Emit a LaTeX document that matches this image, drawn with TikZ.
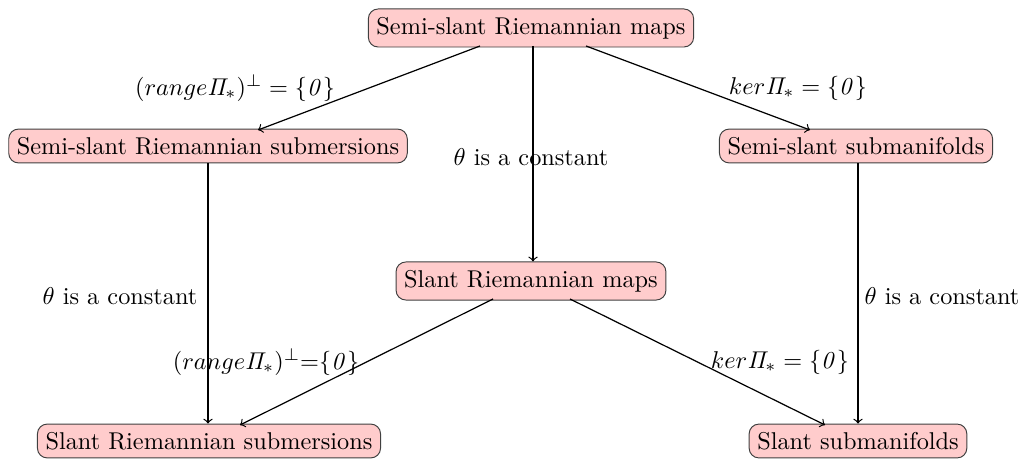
\documentclass[tikz,border=0pt]{standalone}
\usepackage{amsmath}
\begin{document}
\begin{tikzpicture}[x=0.4115pt,y=-0.4115pt,
  box/.style={draw=black!75,fill=red!20,rounded corners=4pt,inner sep=3.33pt},
  arr/.style={->,thick,line width=0.5pt},
  lab/.style={inner sep=1pt}]
\useasboundingbox (0,0) rectangle (1022,459);
\node[box] (top) at (531,28) {Semi-slant Riemannian maps};
\node[box] (ls) at (208,146) {Semi-slant Riemannian submersions};
\node[box] (rs) at (856,146) {Semi-slant submanifolds};
\node[box] (mid) at (531,281) {Slant Riemannian maps};
\node[box] (lb) at (209,441) {Slant Riemannian submersions};
\node[box] (rb) at (858,441) {Slant submanifolds};
\coordinate (t1) at (480,46);
\coordinate (t2) at (533,46);
\coordinate (t3) at (586,46);
\draw[arr] (t1) -- (258,130) coordinate (e1);
\draw[arr] (t2) -- (mid.north -| t2);
\draw[arr] (t3) -- (810,130) coordinate (e3);
\draw[arr] (ls.south) -- (lb.north -| ls.south);
\draw[arr] (rs.south -| rb.north) -- (rb.north);
\coordinate (m1) at (493,299);
\coordinate (m2) at (570,299);
\draw[arr] (m1) -- (240,425) coordinate (e4);
\draw[arr] (m2) -- (825,425) coordinate (e5);
\node[lab] (l1) at (235,88) {$(range\mathit{\Pi}_*)^\perp = \{\mathit{0}\}$};
\node[lab] (l2) at (798,88) {$ker\mathit{\Pi}_* = \{\mathit{0}\}$};
\node[lab] (l3) at (531,157) {$\theta$ is a constant};
\node[lab] (l4) at (120,296) {$\theta$ is a constant};
\node[lab] (l5) at (942,296) {$\theta$ is a constant};
\node[lab] (l6) at (266,362) {$(range\mathit{\Pi}_*)^\perp{=}\{\mathit{0}\}$};
\node[lab] (l7) at (780,362) {$ker\mathit{\Pi}_* = \{\mathit{0}\}$};
\end{tikzpicture}
\end{document}
